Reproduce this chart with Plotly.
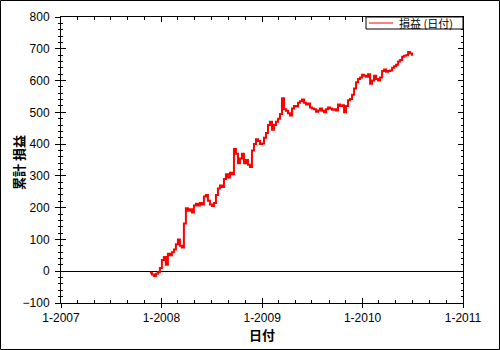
import plotly.graph_objects as go
import pandas as pd

# Cumulative P/L, roughly weekly samples from 2007-11-20 to 2010-06-30
start_date = "2007-11-20"
end_date = "2010-06-30"
values = [
    -5, -10, -15, -8, -3, 10, 35, 45, 20, 55, 50, 60, 68, 85, 100, 80, 75, 150, 198,
    190, 195, 185, 207, 212, 207, 215, 210, 235, 240, 222, 210, 205, 215, 240, 260,
    270, 265, 290, 305, 295, 310, 305, 385, 370, 340, 355, 370, 340, 350, 335, 328,
    380, 400, 415, 410, 400, 402, 420, 435, 460, 470, 445, 460, 470, 480, 495, 544,
    510, 505, 497, 490, 512, 520, 518, 530, 535, 540, 530, 525, 528, 515, 512, 510,
    502, 506, 512, 505, 500, 510, 515, 512, 508, 510, 506, 525, 520, 522, 500, 520,
    538, 542, 555, 575, 595, 605, 610, 618, 615, 612, 620, 590, 600, 615, 605, 600,
    610, 630, 635, 628, 630, 632, 640, 645, 650, 660, 665, 675, 678, 680, 690, 685, 678,
]
dates = pd.date_range(start_date, end_date, periods=len(values))

x_range = ["2007-01-01", "2011-01-01"]
y_range = [-100, 800]
x_title = "日付"
y_title = "累計 損益"
legend_label = "損益 (日付)"

PW, PH = 402, 286  # plot area size in px
L, R, T, B = 61, 37, 17, 47

fig = go.Figure()
fig.add_trace(go.Scatter(
    x=dates, y=values, mode="lines",
    line=dict(color="#ff0000", width=2, shape="hv"),
    showlegend=False, name=legend_label,
))
# dummy trace for the overlay axes
fig.add_trace(go.Scatter(
    x=[dates[0]], y=[None], xaxis="x2", yaxis="y2",
    showlegend=False, hoverinfo="skip", mode="lines",
))

tickfont = dict(family="Liberation Sans, Arial, sans-serif", size=12, color="black")
titlefont = dict(family="Noto Sans CJK JP, sans-serif", size=13, color="black", weight="bold")

fig.update_layout(
    width=500, height=350,
    margin=dict(l=L, r=R, t=T, b=B, autoexpand=False),
    paper_bgcolor="white", plot_bgcolor="white",
    showlegend=False,
    xaxis=dict(
        type="date", range=x_range, tick0="2007-01-01", dtick="M12",
        tickformat="%-m-%Y", ticks="outside", ticklen=4, tickcolor="black",
        showline=True, linecolor="black", linewidth=1, showgrid=False,
        zeroline=False, tickfont=tickfont,
        title=dict(text=x_title, font=titlefont, standoff=2),
    ),
    xaxis2=dict(
        type="date", range=x_range, overlaying="x", anchor="y", side="bottom",
        tick0="2007-01-01", dtick="M12", ticks="inside", ticklen=5,
        tickcolor="black", mirror="allticks", showline=True, linecolor="black",
        showticklabels=False, showgrid=False, zeroline=False,
        minor=dict(tick0="2007-01-01", dtick="M2", ticks="inside", ticklen=3,
                   tickcolor="black", showgrid=False),
    ),
    yaxis=dict(
        range=y_range, dtick=100, ticks="outside", ticklen=5, tickcolor="black",
        showline=True, linecolor="black", linewidth=1, showgrid=False,
        zeroline=True, zerolinecolor="black", zerolinewidth=1,
        tickfont=tickfont, ticklabelstandoff=3,
        minor=dict(dtick=20, ticks="outside", ticklen=2, tickcolor="black", showgrid=False),
    ),
    yaxis2=dict(
        range=y_range, overlaying="y", anchor="x", side="left",
        dtick=100, ticks="inside", ticklen=5, tickcolor="black",
        mirror="allticks", showline=True, linecolor="black",
        showticklabels=False, showgrid=False, zeroline=False,
        minor=dict(dtick=20, ticks="inside", ticklen=2, tickcolor="black", showgrid=False),
    ),
)

# y-axis title placed as rotated text
fig.add_annotation(xref="paper", yref="paper", x=(19 - L) / PW, y=(303 - 163) / PH,
                   xanchor="center", yanchor="middle", showarrow=False, textangle=-90,
                   text=y_title, font=titlefont)

# manual legend box (top-right, inside plot area)
lx0 = (366 - L) / PW
ly0 = 1 - 12 / PH
fig.add_shape(type="rect", xref="paper", yref="paper", x0=lx0, x1=1, y0=ly0, y1=1,
              line=dict(color="black", width=1), fillcolor="white", layer="above")
fig.add_shape(type="line", xref="paper", yref="paper",
              x0=(369 - L) / PW, x1=(393 - L) / PW, y0=1 - 6 / PH, y1=1 - 6 / PH,
              line=dict(color="#ff0000", width=1), layer="above")
fig.add_annotation(xref="paper", yref="paper", x=(397 - L) / PW, y=1 - 6 / PH,
                   xanchor="left", yanchor="middle", showarrow=False,
                   text=legend_label,
                   font=dict(family="Noto Sans CJK JP, sans-serif", size=11, color="black"))

# outer border of the image
fig.add_shape(type="rect", xref="paper", yref="paper",
              x0=(0.5 - L) / PW, x1=(499.5 - L) / PW,
              y0=(350 - B - 349.5) / PH, y1=(350 - B - 0.5) / PH,
              line=dict(color="black", width=1), layer="above")

fig.write_html(
    "out.html",
    config={"displayModeBar": False},
    post_script="document.body.style.margin='0';document.body.style.overflow='hidden';",
)
